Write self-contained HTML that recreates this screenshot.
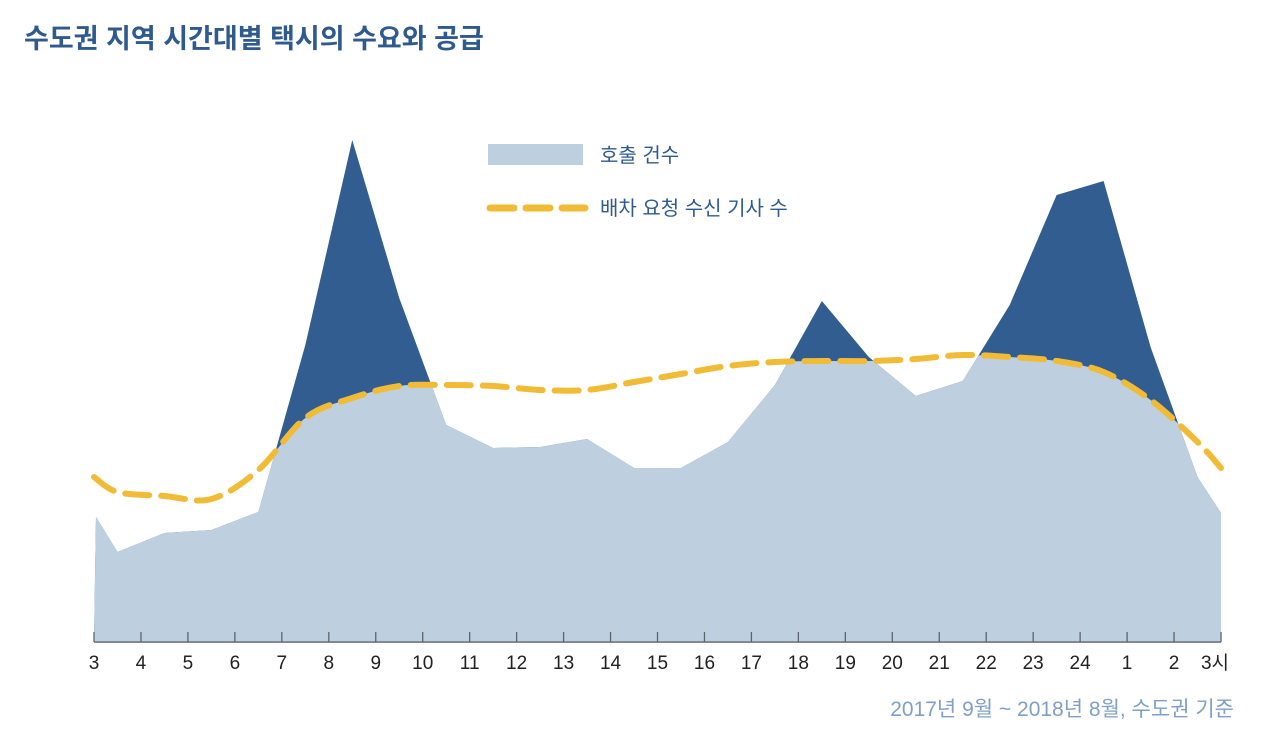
<!DOCTYPE html>
<html><head><meta charset="utf-8"><style>
html,body{margin:0;padding:0;background:#fff;width:1280px;height:747px;overflow:hidden}
svg{display:block}
text{font-family:"Liberation Sans","Noto Sans CJK KR",sans-serif}
</style></head><body>
<svg id="chart" width="1280" height="747">
<text x="24" y="48" font-size="27" fill="#2e5a8e" font-weight="bold">수도권 지역 시간대별 택시의 수요와 공급</text>
<g>
<rect x="488" y="144" width="95" height="21" fill="#bed0e0"/>
<text x="600" y="162" font-size="20" fill="#2e5a8e">호출 건수</text>
<line x1="490" y1="208" x2="585" y2="208" stroke="#f2bb35" stroke-width="7" stroke-dasharray="24 12" stroke-linecap="round"/>
<text x="600" y="215" font-size="20" fill="#2e5a8e">배차 요청 수신 기사 수</text>
</g>
<text x="1234" y="716" font-size="21" fill="#7f9fc6" text-anchor="end">2017년 9월 ~ 2018년 8월, 수도권 기준</text>
</svg>
<script>
const hours = [0,0.5,1.5,2.5,3.5,4.5,5.5,6.5,7.5,8.5,9.5,10.5,11.5,12.5,13.5,14.5,15.5,16.5,17.5,18.5,19.5,20.5,21.5,22.5,23.5,24];
const demand = [124,89,108,111,129,296,501,343,216,193,194,202,173,173,199,256,340,284,245,260,336,446,460,294,164,128];
const supply = [164,149,145,142,171,223,243,255,256,255,251,251,259,267,275,279,280,280,282,286,284,280,269,241,199,173];
const tickLabels = ["3","4","5","6","7","8","9","10","11","12","13","14","15","16","17","18","19","20","21","22","23","24","1","2","3시"];

const svg = document.getElementById('chart');
const NS = 'http://www.w3.org/2000/svg';
const x0 = 94, x1 = 1221, base = 641;
const xs = h => x0 + (x1 - x0) * h / 24;
const ys = v => base - v;
function mk(tag, attrs){const e=document.createElementNS(NS,tag);for(const k in attrs)e.setAttribute(k,attrs[k]);return e;}

const dpts = hours.map((h,i)=>[xs(h)+(i===0?2:0), ys(demand[i])]);
const demandPath = 'M'+xs(0)+','+base+' '+dpts.map(p=>'L'+p[0]+','+p[1]).join(' ')+' L'+xs(24)+','+base+'Z';
const spts = hours.map((h,i)=>[xs(h), ys(supply[i])]);
function smooth(p){let d='M'+p[0][0]+','+p[0][1];for(let i=0;i<p.length-1;i++){const a=p[Math.max(0,i-1)],b=p[i],c=p[i+1],e=p[Math.min(p.length-1,i+2)];const c1=[b[0]+(c[0]-a[0])/6,b[1]+(c[1]-a[1])/6],c2=[c[0]-(e[0]-b[0])/6,c[1]-(e[1]-b[1])/6];d+=' C'+c1[0]+','+c1[1]+' '+c2[0]+','+c2[1]+' '+c[0]+','+c[1];}return d;}
const sLine = smooth(spts);

const defs = mk('defs',{});
const cp = mk('clipPath',{id:'dclip'});
cp.appendChild(mk('path',{d:demandPath}));
defs.appendChild(cp); svg.appendChild(defs);

const dark = mk('path',{d:demandPath,fill:'#325d91'});


svg.appendChild(dark);
const light = mk('path',{d:sLine+' L'+xs(24)+','+(base+2)+' L'+xs(0)+','+(base+2)+'Z',fill:'#bed0e0','clip-path':'url(#dclip)'});


svg.appendChild(light);
const line = mk('path',{d:sLine,fill:'none',stroke:'#f2bb35','stroke-width':6,'stroke-dasharray':'24 12','stroke-linecap':'round'});


svg.appendChild(line);

const axis = mk('line',{x1:x0,y1:base+1,x2:x1,y2:base+1,stroke:'#5a6470','stroke-width':1.5});


svg.appendChild(axis);
tickLabels.forEach((t,i)=>{
  const x = xs(i);
  const tk = mk('line',{x1:x,y1:base-9,x2:x,y2:base+1,stroke:'#5a6470','stroke-width':1.3});
  
  
  svg.appendChild(tk);
  const tx = mk('text',{x:i===24?x-6:x,y:669,'font-size':19,fill:'#222','text-anchor':'middle'});
  tx.textContent = t;
  
  
  svg.appendChild(tx);
});
</script>
</body></html>
